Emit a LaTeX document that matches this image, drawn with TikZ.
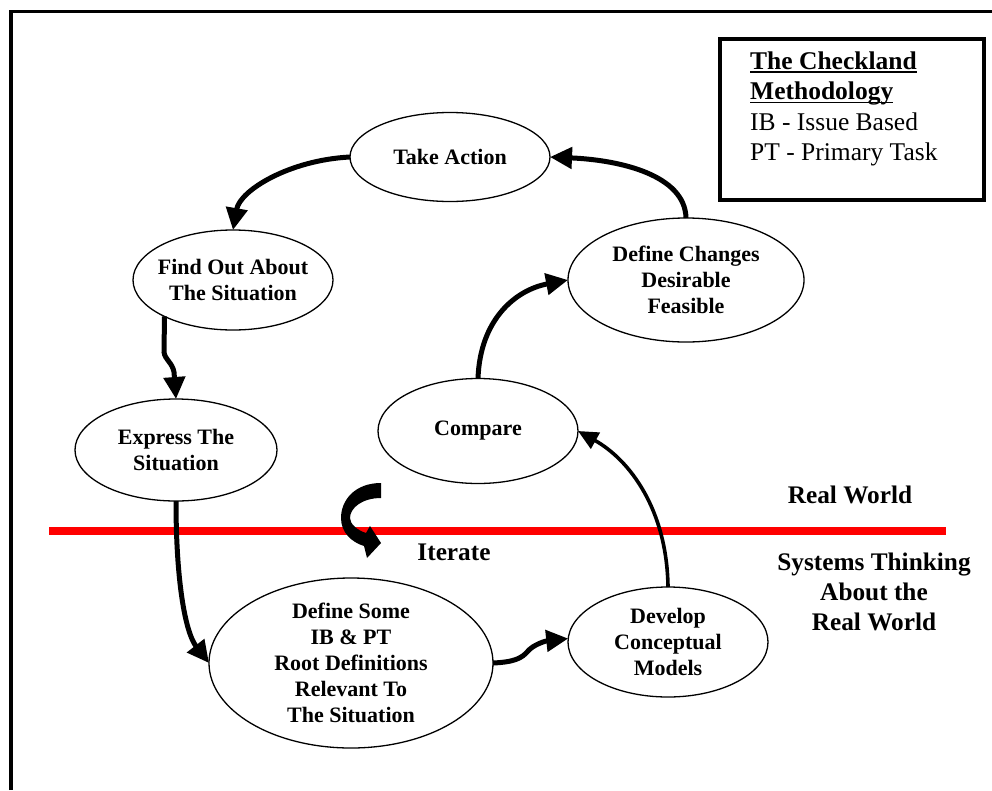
\documentclass[tikz,border=0pt]{standalone}
\usepackage{fontspec}
\setmainfont{Liberation Serif}
\usetikzlibrary{arrows.meta,shapes.geometric}
% underline at a fixed depth below the baseline
\newcommand\lineunder[1]{\setbox0\hbox{#1}\rlap{\rule[-3.6pt]{\wd0}{1.7pt}}\box0}

\begin{document}
\begin{tikzpicture}[x=1pt,y=-1pt,
  stage/.style={ellipse,draw,line width=1.3pt,inner sep=0pt,outer sep=0pt},
  stagetext/.style={align=center,inner sep=0pt,font=\bfseries\fontsize{22}{26}\selectfont},
  flow/.style={line width=5pt,-{Triangle[length=22pt,width=21pt]}},
  thinflow/.style={line width=3.6pt,-{Triangle[length=20pt,width=18pt]}},
  sidelabel/.style={align=center,inner sep=0pt,font=\bfseries\fontsize{25.3}{30}\selectfont}]
\useasboundingbox (0,0) rectangle (992,790);

% page frame (only left and top edges show)
\draw[line width=3.5pt,line join=miter] (11,790) -- (11,11.5) -- (992,11.5);

% legend box
\draw[line width=4pt] (720,38.5) rectangle (983.5,200);
\node[anchor=west,align=left,inner sep=0pt,font=\fontsize{25.5}{30.5}\selectfont] (legend) at (750,109)
  {\textbf{\lineunder{The Checkland}}\\ \textbf{\lineunder{Methodology}}\\ IB - Issue Based\\ PT - Primary Task};

% boundary between real world and systems thinking
\draw[red,line width=7.5pt] (49,531) -- (946,531);
\node[sidelabel] (rw) at (850,495) {Real World};
\node[sidelabel] (st) at (874,592) {Systems Thinking\\ About the\\ Real World};
\node[sidelabel] (it) at (454,552) {Iterate};

% curved iterate arrow
\fill (381,483) .. controls (355,483) and (341,500) .. (341,518)
  .. controls (341,532) and (351,542) .. (364,546)
  -- (367,558) -- (381,543) -- (370,526) -- (366,533)
  .. controls (357,530) and (350,524) .. (350,518)
  .. controls (350,508) and (362,498) .. (381,498) -- cycle;

% stages
\node[stage,minimum width=200pt,minimum height=89pt] (TA) at (450,157) {};
\node[stagetext] (TAt) at (TA.center) {Take Action};
\node[stage,minimum width=200pt,minimum height=100pt] (FO) at (233,280) {};
\node[stagetext] (FOt) at (FO.center) {Find Out About\\ The Situation};
\node[stage,minimum width=236pt,minimum height=124pt] (DC) at (686,280) {};
\node[stagetext] (DCt) at (DC.center) {Define Changes\\ Desirable\\ Feasible};
\node[stage,minimum width=202pt,minimum height=102pt] (EX) at (176,450) {};
\node[stagetext] (EXt) at (EX.center) {Express The\\ Situation};
\node[stage,minimum width=200pt,minimum height=105pt] (CP) at (478,431) {};
\node[stagetext] (CPt) at (CP.center) {Compare};
\node[stage,minimum width=284pt,minimum height=170pt] (DS) at (351,663) {};
\node[stagetext] (DSt) at (DS.center) {Define Some\\ IB \& PT\\ Root Definitions\\ Relevant To\\ The Situation};
\node[stage,minimum width=200pt,minimum height=110pt] (DV) at (668,642) {};
\node[stagetext] (DVt) at (DV.center) {Develop\\ Conceptual\\ Models};

% cycle of activities
\draw[flow] (TA.west) .. controls (290,160) and (240,190) .. (FO.north);
\draw[flow] (FO.208) -- (164,352) .. controls (165,360) and (172,362) .. (174,372) -- (EX.north);
\draw[flow] (EX.south) .. controls (176,580) and (185,632) .. (DS.west);
\draw[flow] (DS.east) .. controls (515,662) and (522,658) .. (528,651)
  .. controls (533,645) and (545,641) .. (DV.178);
\draw[thinflow] (DV.north) .. controls (667,510) and (630,460) .. (CP.east);
\draw[flow] (CP.north) .. controls (480,320) and (515,290) .. (DC.west);
\draw[flow] (DC.north) .. controls (685,175) and (620,160) .. (TA.east);
\end{tikzpicture}
\end{document}
